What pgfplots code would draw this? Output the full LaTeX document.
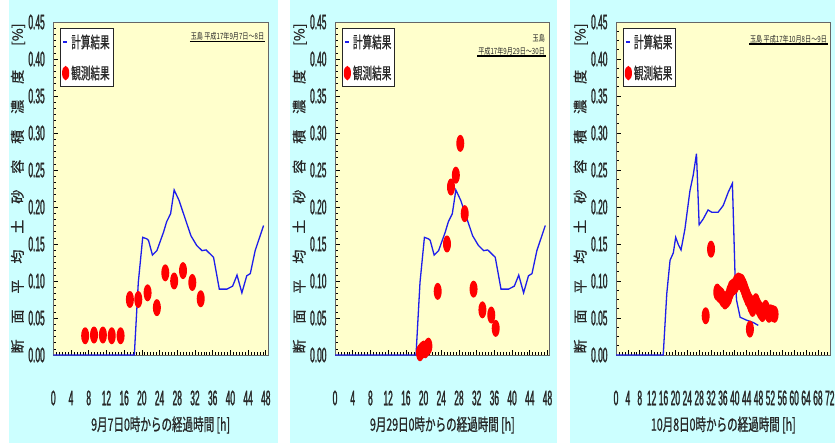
\documentclass[border=0pt]{standalone}
\usepackage{fontspec}
\setmainfont{Noto Sans CJK JP}
\newfontfamily\numfont[FakeStretch=0.40,FakeBold=1.2]{Liberation Sans}
\newfontfamily\jpfont[FakeStretch=0.62,FakeBold=0.8]{Noto Sans CJK JP}
\newfontfamily\legfont[FakeStretch=0.60,FakeBold=0.6]{Noto Sans CJK JP}
\newfontfamily\annfont[FakeStretch=0.72]{Noto Sans CJK JP}
\newfontfamily\ylfont[FakeBold=0.8]{Noto Sans CJK JP}
\usepackage{pgfplots}
\usepackage{pgfplotstable}
\pgfplotsset{compat=1.18}
\definecolor{bgblue}{RGB}{204,255,255}
\definecolor{plotbg}{RGB}{255,255,204}
\definecolor{calcblue}{RGB}{30,30,235}
\definecolor{txt}{RGB}{40,40,40}

\pgfdeclareplotmark{vell}{%
  \pgfpathellipse{\pgfpointorigin}{\pgfqpoint{4pt}{0pt}}{\pgfqpoint{0pt}{8.5pt}}%
  \pgfusepathqfill}

\pgfplotstableread{
x y
0 0
18.3 0
19.2 0.098
20.2 0.159
21.1 0.157
21.5 0.155
22.4 0.135
23.4 0.141
24.9 0.166
25.6 0.180
26.5 0.191
27.3 0.223
28.4 0.209
29.8 0.184
31.1 0.161
32.4 0.148
33.6 0.141
34.5 0.142
36.2 0.132
37.5 0.089
39.2 0.089
40.5 0.093
41.5 0.108
42.6 0.084
43.7 0.107
44.5 0.110
45.6 0.141
47.5 0.175
}\calcA

\pgfplotstableread{
x y
7.2 0.026
9.2 0.027
11.2 0.027
13.2 0.026
15.2 0.026
17.3 0.075
19.2 0.075
21.3 0.084
23.4 0.064
25.3 0.111
27.3 0.100
29.3 0.114
31.4 0.098
33.3 0.076
}\obsA

\pgfplotstableread{
x y
19.2 0.003
19.6 0.006
20.0 0.008
20.4 0.007
20.8 0.010
21.1 0.012
23.2 0.086
25.3 0.150
26.2 0.227
27.3 0.243
28.3 0.286
29.3 0.191
31.3 0.089
33.3 0.061
35.3 0.054
36.3 0.036
}\obsB

\pgfplotstableread{
x y
0 0
15.9 0
17.1 0.083
18.2 0.128
19.3 0.138
20.1 0.159
21.0 0.149
21.9 0.142
23.2 0.170
24.9 0.222
26.0 0.243
27.1 0.272
28.0 0.176
29.4 0.184
31.0 0.196
32.2 0.193
34.4 0.193
36.1 0.202
37.8 0.220
39.2 0.232
40.1 0.106
40.6 0.074
41.8 0.051
44.0 0.047
46.2 0.044
47.9 0.040
}\calcC

\pgfplotstableread{
x y
30.2 0.053
32.0 0.143
34.1 0.085
34.8 0.082
35.4 0.080
36.0 0.076
36.7 0.073
37.3 0.075
37.8 0.078
38.4 0.085
38.9 0.090
39.5 0.092
40.1 0.094
40.6 0.098
41.2 0.100
41.8 0.099
42.3 0.098
42.8 0.094
43.2 0.090
43.6 0.085
44.0 0.081
44.5 0.076
45.1 0.072
45.1 0.035
45.5 0.067
46.0 0.063
46.5 0.068
47.1 0.072
47.6 0.067
48.2 0.063
48.7 0.059
49.3 0.056
49.8 0.060
50.4 0.063
51.0 0.058
51.5 0.055
52.1 0.057
52.8 0.056
53.4 0.055
}\obsC

\newcommand{\ylab}{\ylfont\fontsize{14}{14}\selectfont\color{txt}\makebox[330pt][l]{断\hfill 面\hfill 平\hfill 均\hfill 土\hfill 砂\hfill 容\hfill 積\hfill 濃\hfill 度\hspace{24pt}[\%]}}

\pgfplotsset{
  panel/.style={
    scale only axis, width=214.7pt, height=333pt,
    ymin=0, ymax=0.45, xmin=0,
    clip=false,
    axis background/.style={fill=plotbg},
    ytick={0,0.05,0.10,0.15,0.20,0.25,0.30,0.35,0.40,0.45},
    tick align=inside, ytick pos=left, xtick pos=lower,
    major tick length=4.5pt, minor tick length=2.5pt,
    every tick/.style={black, line width=0.6pt},
    x axis line style={line width=1.6pt, black},
    y axis line style={line width=0.9pt, black!60},
    /pgf/number format/assume math mode=true,
    yticklabel style={font=\numfont\fontsize{21}{21}\selectfont, text=txt, xshift=-5pt,
      /pgf/number format/.cd, fixed, fixed zerofill, precision=2},
    xticklabel style={font=\numfont\fontsize{21}{21}\selectfont, text=txt, anchor=center, yshift=-43pt},
    xlabel style={at={(axis description cs:0.5,0)}, anchor=center, yshift=-70pt,
      font=\jpfont\fontsize{17}{17}\selectfont, text=txt},
    ylabel style={at={(axis description cs:-0.155,0.5)}, anchor=center, rotate=0, yshift=2pt},
    legend style={at={(axis description cs:0.031,0.982)}, anchor=north west,
      draw=black!85, line width=1.2pt, fill=white,
      font=\legfont\fontsize{16}{16}\selectfont, text=txt,
      inner xsep=1.5pt, inner ysep=4pt, row sep=12pt},
    legend cell align=left,
  },
  calc/.style={calcblue, line width=1.3pt, mark=none,
    legend image code/.code={\draw[calcblue, line width=2.2pt] (0pt,0pt) -- (4pt,0pt);}},
  obs/.style={red, only marks, mark=vell,
    legend image code/.code={\fill[red] (2.5pt,0pt) ellipse [x radius=3pt, y radius=6.5pt];}},
}

\begin{document}
\begin{tikzpicture}
\path[use as bounding box] (0,0) rectangle (835pt,443pt);
\fill[white] (0,0) rectangle (835pt,443pt);
\fill[bgblue] (9pt,0) rectangle (278pt,443pt);
\fill[bgblue] (290pt,0) rectangle (557pt,443pt);
\fill[bgblue] (570pt,0) rectangle (835pt,443pt);

% Panel 1
\begin{axis}[panel, at={(53.3pt,88pt)}, anchor=south west,
  xmax=48.5, xtick={0,4,...,48}, minor tick num=5,
  xlabel={9月7日0時からの経過時間 [h]}, ylabel={\ylab}]
\addplot[calc] table {\calcA};
\addlegendentry{計算結果}
\addplot[obs] table {\obsA};
\addlegendentry{観測結果}
\node[anchor=south east, inner sep=0.6pt, font=\annfont\fontsize{8.5}{9}\selectfont, text=txt]
  (a1) at (axis description cs:1,1) [xshift=-3pt, yshift=-19.5pt] {玉島\ 平成17年9月7日〜8日};
\draw[line width=1.2pt] (a1.south west) -- (a1.south east);
\end{axis}

% Panel 2
\begin{axis}[panel, at={(335pt,88pt)}, anchor=south west,
  xmax=48.5, xtick={0,4,...,48}, minor tick num=5,
  xlabel={9月29日0時からの経過時間 [h]}, ylabel={\ylab}]
\addplot[calc] table {\calcA};
\addlegendentry{計算結果}
\addplot[obs] table {\obsB};
\addlegendentry{観測結果}
\node[anchor=south east, inner sep=0.6pt, align=right, font=\annfont\fontsize{8.5}{13}\selectfont, text=txt]
  (a2) at (axis description cs:1,1) [xshift=-4pt, yshift=-34pt] {玉島\\平成17年9月29日〜30日};
\draw[line width=1.2pt] (a2.south west) -- (a2.south east);
\end{axis}

% Panel 3
\begin{axis}[panel, at={(616pt,88pt)}, anchor=south west,
  xmax=72.3, xtick={0,4,...,72}, minor tick num=3,
  xlabel={10月8日0時からの経過時間 [h]}, ylabel={\ylab}]
\addplot[calc] table {\calcC};
\addlegendentry{計算結果}
\addplot[obs] table {\obsC};
\addlegendentry{観測結果}
\node[anchor=south east, inner sep=0.6pt, font=\annfont\fontsize{8.5}{9}\selectfont, text=txt]
  (a3) at (axis description cs:1,1) [xshift=-3pt, yshift=-22pt] {玉島\ 平成17年10月8日〜9日};
\draw[line width=1.2pt] (a3.south west) -- (a3.south east);
\end{axis}
\end{tikzpicture}
\end{document}
